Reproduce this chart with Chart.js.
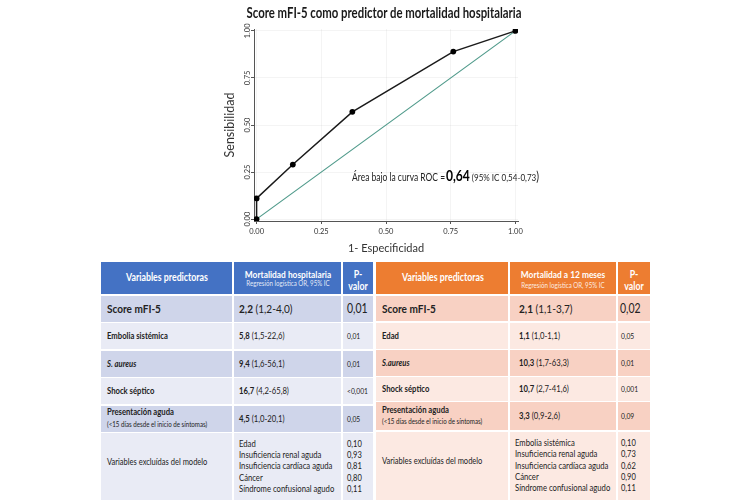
<!DOCTYPE html>
<html><head><meta charset="utf-8">
<script src="https://cdn.jsdelivr.net/npm/chart.js@4.4.1/dist/chart.umd.min.js"></script>
<style>
html,body{margin:0;padding:0;background:#fff;}
body{width:750px;height:500px;position:relative;overflow:hidden;font-family:Lato,'Open Sans',sans-serif;color:#222;}
#cv{position:absolute;left:0;top:0;}
#title{position:absolute;white-space:nowrap;font-weight:700;font-size:15.5px;line-height:1;color:#1a1a1a;}
.cell{position:absolute;}
.t{position:absolute;white-space:nowrap;line-height:1;}
</style></head>
<body>
<canvas id="cv" width="750" height="258"></canvas>
<div id="title"></div>
<div id="tables"></div>
<script>
// ---------- data ----------
const chartTitle = 'Score mFI-5 como predictor de mortalidad hospitalaria';
const xTitle = '1- Especificidad';
const yTitle = 'Sensibilidad';
const fpr = [0, 0, 0.14, 0.37, 0.76, 1];
const tpr = [0, 0.11, 0.29, 0.57, 0.89, 1];
const refX = [0, 1];
const refY = [0, 1];
const axisTicks = [0, 0.25, 0.5, 0.75, 1];
const tickLabels = ['0.00', '0.25', '0.50', '0.75', '1.00'];
const aucParts = ['Área bajo la curva ROC =', '0,64', ' (95% IC 0,54-0,73', ')'];

const headVar = 'Variables predictoras';
const headSub = 'Regresión logística OR, 95% IC';
const headP = ['P-', 'valor'];
const excludedLabel = 'Variables excluídas del modelo';
const acuteNote = '(<15 días desde el inicio de síntomas)';
const italicLabels = ['S. aureus', 'S.aureus'];

const leftHead = 'Mortalidad hospitalaria';
const leftLabels = ['Score mFI-5', 'Embolia sistémica', 'S. aureus', 'Shock séptico', 'Presentación aguda'];
const leftOR = ['2,2', '5,8', '9,4', '16,7', '4,5'];
const leftCI = ['(1,2-4,0)', '(1,5-22,6)', '(1,6-56,1)', '(4,2-65,8)', '(1,0-20,1)'];
const leftP = ['0,01', '0,01', '0,01', '<0,001', '0,05'];
const leftExcluded = ['Edad', 'Insuficiencia renal aguda', 'Insuficiencia cardíaca aguda', 'Cáncer', 'Síndrome confusional agudo'];
const leftExcludedP = ['0,10', '0,93', '0,81', '0,80', '0,11'];

const rightHead = 'Mortalidad a 12 meses';
const rightLabels = ['Score mFI-5', 'Edad', 'S.aureus', 'Shock séptico', 'Presentación aguda'];
const rightOR = ['2,1', '1,1', '10,3', '10,7', '3,3'];
const rightCI = ['(1,1-3,7)', '(1,0-1,1)', '(1,7-63,3)', '(2,7-41,6)', '(0,9-2,6)'];
const rightP = ['0,02', '0,05', '0,01', '0,001', '0,09'];
const rightExcluded = ['Embolia sistémica', 'Insuficiencia renal aguda', 'Insuficiencia cardíaca aguda', 'Cáncer', 'Síndrome confusional agudo'];
const rightExcludedP = ['0,10', '0,73', '0,62', '0,90', '0,11'];

// ---------- chart ----------
Chart.defaults.font.family = 'Lato';
const aucPos = {x: 0.369, y: 0.204};
const aucPlugin = {
  id: 'auc',
  afterDatasetsDraw(chart) {
    const {ctx, scales: {x, y}} = chart;
    const px = x.getPixelForValue(aucPos.x), py = y.getPixelForValue(aucPos.y);
    const fonts = ['400 10.5px Lato', '700 15px Lato', '400 10px Lato', '400 13px Lato'];
    ctx.save();
    ctx.font = fonts[0];
    const k = 93 / ctx.measureText(aucParts[0]).width;
    ctx.translate(px, py);
    ctx.scale(k, 1);
    ctx.textBaseline = 'alphabetic';
    ctx.textAlign = 'left';
    let cx = 0;
    aucParts.forEach((s, i) => {
      ctx.font = fonts[i];
      ctx.fillStyle = i === 1 ? '#000' : '#222';
      ctx.fillText(s, cx, 0);
      cx += ctx.measureText(s).width + (i === 0 ? 1 : 0);
    });
    ctx.restore();
  }
};
const setTicks = s => { s.ticks = axisTicks.map(v => ({value: v})); };
const lab = v => tickLabels[axisTicks.indexOf(v)];
new Chart(document.getElementById('cv'), {
  type: 'scatter',
  data: {
    datasets: [
      {data: refX.map((v, i) => ({x: v, y: refY[i]})), showLine: true, borderColor: '#4f9a8a', borderWidth: 1.2, pointRadius: 0, order: 2},
      {data: fpr.map((v, i) => ({x: v, y: tpr[i]})), showLine: true, borderColor: '#1a1a1a', borderWidth: 1.5,
       pointRadius: 2.9, pointBackgroundColor: '#000', pointBorderColor: '#000', pointBorderWidth: 0, order: 1}
    ]
  },
  options: {
    responsive: false, animation: false,
    layout: {padding: {left: 222, right: 232, top: 29, bottom: 0}},
    plugins: {legend: {display: false}, tooltip: {enabled: false}, title: {display: false}},
    scales: {
      x: {
        type: 'linear', min: -0.01, max: 1.01, afterBuildTicks: setTicks,
        ticks: {callback: lab, font: {size: 7.5}, color: '#333', padding: 3, maxRotation: 0, autoSkip: false},
        grid: {color: 'rgba(0,0,0,0.045)', tickColor: '#555', tickLength: 3},
        border: {display: true, color: '#555', width: 1},
        title: {display: true, text: xTitle, font: {size: 11}, color: '#333', padding: {top: 0, bottom: 3}},
        afterFit: s => { s.height = 37; }
      },
      y: {
        type: 'linear', min: -0.01, max: 1.01, afterBuildTicks: setTicks,
        ticks: {callback: lab, font: {size: 7.5}, color: '#333', padding: -3.5, minRotation: 90, maxRotation: 90, crossAlign: 'center', autoSkip: false},
        grid: {color: 'rgba(0,0,0,0.045)', tickColor: '#555', tickLength: 3},
        border: {display: true, color: '#555', width: 1},
        title: {display: true, text: yTitle, font: {size: 12.5}, color: '#333', padding: {top: 0, bottom: 0}},
        afterFit: s => { s.width = 32; }
      }
    }
  },
  plugins: [aucPlugin]
});

// ---------- title ----------
const T = document.getElementById('title');
T.textContent = chartTitle;
const tk = 275 / T.offsetWidth;
T.style.left = '384px'; T.style.top = '13px';
T.style.transform = 'translate(-50%,-50%) scaleX(' + tk + ')';

// ---------- tables ----------
const box = document.getElementById('tables');
const texts = [];
function cell(x0, x1, y0, y1, bg) {
  const d = document.createElement('div');
  d.className = 'cell';
  d.style.left = x0 + 'px'; d.style.top = y0 + 'px';
  d.style.width = (x1 - x0) + 'px'; d.style.height = (y1 - y0) + 'px';
  d.style.background = bg;
  box.appendChild(d);
}
function txt(x, y, parts, size, o) {
  o = o || {};
  const d = document.createElement('div');
  d.className = 't';
  d.style.left = x + 'px'; d.style.top = y + 'px';
  d.style.fontSize = size + 'px';
  if (o.color) d.style.color = o.color;
  if (o.lh) d.style.lineHeight = o.lh + 'px';
  if (o.center) d.style.textAlign = 'center';
  parts.forEach(p => {
    if (p === '\n') { d.appendChild(document.createElement('br')); return; }
    const s = document.createElement('span');
    s.textContent = p.t;
    if (p.b) s.style.fontWeight = '700';
    if (p.i) s.style.fontStyle = 'italic';
    d.appendChild(s);
  });
  d._center = !!o.center;
  box.appendChild(d); texts.push(d);
  return d;
}
function lines(arr) { const out = []; arr.forEach((s, i) => { if (i) out.push('\n'); out.push({t: s}); }); return out; }

function table(cfg) {
  const X = cfg.cols, R = cfg.rows;
  for (let c = 0; c < 3; c++) cell(X[c] + (c ? 1 : 0), X[c + 1] - (c < 2 ? 1 : 0), cfg.head[0], cfg.head[1], cfg.headColor);
  const hm = (cfg.head[0] + cfg.head[1]) / 2;
  const ref = txt((X[0] + X[1]) / 2, hm - 1, [{t: headVar, b: 1}], 10.5, {color: '#fff', center: 1});
  txt((X[1] + X[2]) / 2, 274, [{t: cfg.headTitle, b: 1}], 10, {color: '#fff', center: 1});
  txt((X[1] + X[2]) / 2, cfg.subY, [{t: headSub}], 7.4, {color: 'rgba(255,255,255,0.88)', center: 1});
  txt((X[2] + X[3]) / 2, hm + 2, [{t: headP[0], b: 1}, '\n', {t: headP[1], b: 1}], 10.5, {color: '#fff', center: 1, lh: 12});
  R.forEach((r, i) => {
    const bg = i % 2 === 0 ? cfg.dark : cfg.light;
    for (let c = 0; c < 3; c++) cell(X[c] + (c ? 1 : 0), X[c + 1] - (c < 2 ? 1 : 0), r[0], r[1], bg);
    const m = (r[0] + r[1]) / 2;
    if (i < cfg.labels.length) {
      const big = i === 0;
      const fs = big ? 12 : 9.2;
      const lab = cfg.labels[i];
      if (i === 4) {
        txt(cfg.tx[0], m - 6.5, [{t: lab, b: 1}], fs);
        txt(cfg.tx[0], m + 6, [{t: acuteNote}], 7.4);
      } else {
        txt(cfg.tx[0], m, [{t: lab, b: 1, i: italicLabels.includes(lab) ? 1 : 0}], fs);
      }
      txt(cfg.tx[1], m, [{t: cfg.or[i], b: 1}, {t: ' ' + cfg.ci[i]}], fs);
      txt(big ? cfg.tx[2] : cfg.tx[3], m, [{t: cfg.p[i]}], big ? 12.5 : 8);
    } else {
      txt(cfg.tx[0], m - 5.5, [{t: excludedLabel}], 9);
      txt(cfg.tx[4], m, lines(cfg.excl), 9.2, {lh: 11.4});
      txt(cfg.tx[3], m, lines(cfg.exclP), 9, {lh: 11.4});
    }
  });
  return ref;
}

const refEl = table({
  cols: [101, 233, 342, 373], head: [262, 294],
  rows: [[296, 321.5], [323, 349.3], [350.7, 376.7], [378, 404], [405.7, 431.7], [433.3, 500]],
  headColor: '#4472C4', dark: '#CFD5EA', light: '#E9EBF5', headTitle: leftHead, subY: 283.5,
  tx: [107, 239, 346.5, 346.5, 238.5],
  labels: leftLabels, or: leftOR, ci: leftCI, p: leftP, excl: leftExcluded, exclP: leftExcludedP
});
table({
  cols: [376, 509, 617, 650], head: [262, 294],
  rows: [[296, 321], [322.5, 348.5], [349.5, 376], [377, 401], [402, 430], [431.5, 500]],
  headColor: '#ED7D31', dark: '#F8D1C3', light: '#FCE9E2', headTitle: rightHead, subY: 285.5,
  tx: [382, 519, 619.5, 620.5, 515],
  labels: rightLabels, or: rightOR, ci: rightCI, p: rightP, excl: rightExcluded, exclP: rightExcludedP
});

const K = 82 / refEl.offsetWidth;
texts.forEach(d => {
  if (d._center) {
    d.style.transformOrigin = '50% 50%';
    d.style.transform = 'translate(-50%,-50%) scaleX(' + K + ')';
  } else {
    d.style.transformOrigin = '0 50%';
    d.style.transform = 'translateY(-50%) scaleX(' + K + ')';
  }
});
</script>
</body></html>
